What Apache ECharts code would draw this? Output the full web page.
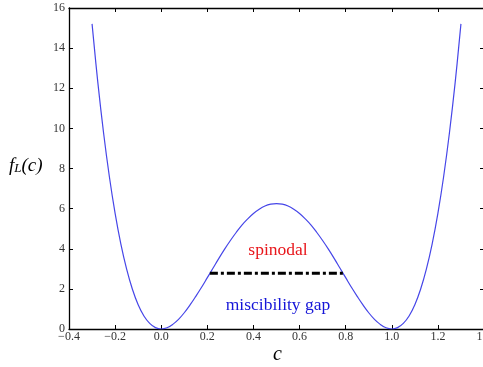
<!DOCTYPE html>
<html>
<head>
<meta charset="utf-8">
<script src="https://cdn.jsdelivr.net/npm/echarts@6/dist/echarts.min.js"></script>
<style>
  html, body { margin: 0; padding: 0; background: #fff; }
  #main { width: 483px; height: 367px; }
</style>
</head>
<body>
<div id="main"></div>
<script>
// free energy curve
var cValues = [-0.300, -0.275, -0.250, -0.225, -0.200, -0.175, -0.150, -0.125, -0.100, -0.075, -0.050, -0.025,
  0.000, 0.025, 0.050, 0.075, 0.100, 0.125, 0.150, 0.175, 0.200, 0.225, 0.250, 0.275, 0.300, 0.325, 0.350, 0.375,
  0.400, 0.425, 0.450, 0.475, 0.500, 0.525, 0.550, 0.575, 0.600, 0.625, 0.650, 0.675, 0.700, 0.725, 0.750, 0.775,
  0.800, 0.825, 0.850, 0.875, 0.900, 0.925, 0.950, 0.975, 1.000, 1.025, 1.050, 1.075, 1.100, 1.125, 1.150, 1.175,
  1.200, 1.225, 1.250, 1.275, 1.300];
var fValues = [15.21, 12.29, 9.77, 7.60, 5.76, 4.23, 2.98, 1.98, 1.21, 0.65, 0.28, 0.07,
  0.00, 0.06, 0.23, 0.48, 0.81, 1.20, 1.63, 2.08, 2.56, 3.04, 3.52, 3.98, 4.41, 4.81, 5.18, 5.49,
  5.76, 5.97, 6.13, 6.22, 6.25, 6.22, 6.13, 5.97, 5.76, 5.49, 5.18, 4.81, 4.41, 3.98, 3.52, 3.04,
  2.56, 2.08, 1.63, 1.20, 0.81, 0.48, 0.23, 0.06, 0.00, 0.07, 0.28, 0.65, 1.21, 1.98, 2.98, 4.23,
  5.76, 7.60, 9.77, 12.29, 15.21];
// spinodal tie line
var spinodalC = [0.211, 0.789];
var spinodalF = [2.78, 2.78];

var xTicks = { min: -0.4, max: 1.4, step: 0.2 };
var yTicks = { min: 0, max: 16, step: 2 };

var serif = '"Liberation Serif", "DejaVu Serif", serif';

var curve = cValues.map(function (c, i) { return [c, fValues[i]]; });
var tie = spinodalC.map(function (c, i) { return [c, spinodalF[i]]; });

var axisLine = { show: true, onZero: false, lineStyle: { color: '#000', width: 1.3 } };
var tick = { show: true, inside: true, length: 4, lineStyle: { color: '#000', width: 1 } };
var lbl = { color: '#333', fontFamily: serif, fontSize: 12 };

var chart = echarts.init(document.getElementById('main'));
chart.setOption({
  animation: false,
  grid: { left: 69, top: 8, width: 415, height: 321, containLabel: false, outerBoundsMode: 'none' },
  xAxis: [
    {
      type: 'value', min: xTicks.min, max: xTicks.max, interval: xTicks.step,
      axisLine: axisLine, axisTick: tick, splitLine: { show: false },
      axisLabel: Object.assign({
        margin: 2, hideOverlap: false,
        formatter: function (v) { return v.toFixed(1).replace('-', '\u2212'); }
      }, lbl)
    },
    {
      type: 'value', position: 'top', min: xTicks.min, max: xTicks.max, interval: xTicks.step,
      axisLine: axisLine, axisTick: tick, splitLine: { show: false }, axisLabel: { show: false }
    }
  ],
  yAxis: [
    {
      type: 'value', min: yTicks.min, max: yTicks.max, interval: yTicks.step,
      axisLine: axisLine, axisTick: tick, splitLine: { show: false },
      axisLabel: Object.assign({ margin: 4 }, lbl)
    },
    {
      type: 'value', position: 'right', min: yTicks.min, max: yTicks.max, interval: yTicks.step,
      axisLine: axisLine, axisTick: tick, splitLine: { show: false }, axisLabel: { show: false }
    }
  ],
  series: [
    {
      type: 'line', data: curve, smooth: 0.4, symbol: 'none',
      lineStyle: { color: '#4646e8', width: 1.2 }
    },
    {
      type: 'line', data: tie, symbol: 'none',
      lineStyle: { color: '#000', width: 3, type: [8, 3, 3, 3] }
    }
  ],
  graphic: [
    {
      type: 'text', left: 9, top: 156,
      style: {
        text: '{i|f}{s|L}{i|(c)}',
        rich: {
          i: { fontFamily: serif, fontStyle: 'italic', fontSize: 19, fill: '#000' },
          s: { fontFamily: serif, fontStyle: 'italic', fontSize: 13, fill: '#000', padding: [7, 0, 0, 0] }
        }
      }
    },
    {
      type: 'text', left: 273, top: 345,
      style: { text: 'c', fontFamily: serif, fontStyle: 'italic', fontSize: 20, fill: '#000' }
    },
    {
      type: 'text', x: 278, y: 250,
      style: { text: 'spinodal', fontFamily: serif, fontSize: 17.5, fill: '#e8161b', align: 'center', verticalAlign: 'middle' }
    },
    {
      type: 'text', x: 278, y: 305,
      style: { text: 'miscibility gap', fontFamily: serif, fontSize: 17.5, fill: '#1515d8', align: 'center', verticalAlign: 'middle' }
    }
  ]
});
</script>
</body>
</html>
